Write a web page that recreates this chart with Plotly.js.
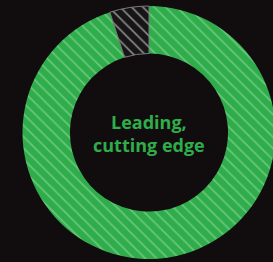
<!DOCTYPE html>
<html>
<head>
<meta charset="utf-8">
<script src="https://cdn.plot.ly/plotly-3.0.1.min.js"></script>
<style>
html,body{margin:0;padding:0;background:#110d0e;overflow:hidden;}
#chart{width:276px;height:262px;}
</style>
</head>
<body>
<div id="chart"></div>
<script>
var labels = ["Leading, cutting edge", "Other"];
var values = [95, 5];
var centerText = "Leading,<br>cutting edge";

var trace = {
  type: "pie",
  labels: labels,
  values: values,
  hole: 0.625,
  sort: false,
  direction: "clockwise",
  rotation: 0,
  textinfo: "none",
  hoverinfo: "none",
  domain: {x: [0.0815, 0.998], y: [0.0115, 0.977]},
  marker: {
    colors: ["#2fad4b", "#171515"],
    line: {color: ["#2fad4b", "#7a7a7a"], width: [0, 1]},
    pattern: {
      shape: ["\\", "\\"],
      fgcolor: ["#6cc67f", "#8a8a8a"],
      bgcolor: ["#2fad4b", "#171515"],
      size: 8,
      solidity: 0.2,
      fillmode: "replace"
    }
  },
  showlegend: false
};

var layout = {
  width: 276,
  height: 262,
  margin: {l: 0, r: 0, t: 0, b: 0},
  paper_bgcolor: "#110d0e",
  plot_bgcolor: "#110d0e",
  showlegend: false,
  annotations: [{
    text: centerText,
    x: 149 / 276,
    y: 1 - 133 / 262,
    xref: "paper",
    yref: "paper",
    showarrow: false,
    font: {family: "Open Sans", size: 18, color: "#2fad4b", weight: "bold"},
    align: "center"
  }]
};

Plotly.newPlot("chart", [trace], layout, {staticPlot: true});
</script>
</body>
</html>
